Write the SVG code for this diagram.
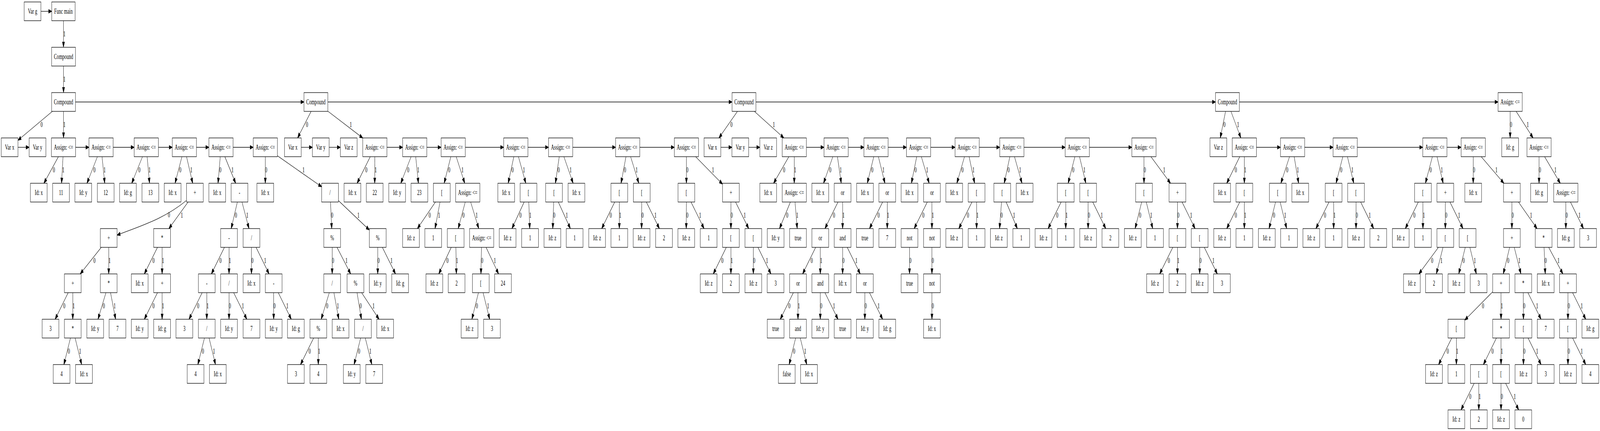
<svg xmlns="http://www.w3.org/2000/svg" width="6881" height="1103" viewBox="0 0 6881 1103" preserveAspectRatio="none">
<style>
svg{width:100vw;height:100vh;display:block}
use{fill:#fff;stroke:#000;stroke-width:1.33}
text{font-family:"Liberation Serif","Times New Roman",serif;font-size:18.67px;text-anchor:middle;fill:#000}
#connectors path{fill:none;stroke:#000;stroke-width:1.33;marker-end:url(#ah)}
</style>
<defs>
<marker id="ah" markerUnits="userSpaceOnUse" viewBox="0 0 13.33 9.33" refX="13.33" refY="4.67" markerWidth="13.33" markerHeight="9.33" orient="auto" overflow="visible"><path d="M0,0L13.33,4.67L0,9.33z" fill="#000" stroke="#000" stroke-width="1.33"/></marker>
<rect id="b" x="-36" y="-24" width="72" height="48"/>
<rect id="w" x="-52" y="-24" width="104" height="48"/>
<rect id="c" x="-51.3" y="-24" width="102.6" height="48"/>
<rect id="f" x="-50.15" y="-24" width="100.3" height="48"/>
</defs>
<rect width="6881" height="1103" fill="#fff"/>
<g id="connectors">
<path d="M176 29L222.6 29"/>
<path d="M273 53L273 121"/>
<path d="M273.2 169L273.2 237"/>
<path d="M324.5 261L1307.2 261"/>
<path d="M1409.8 261L3148.3 261"/>
<path d="M3250.9 261L5227.5 261"/>
<path d="M5330.1 261L6442.6 261"/>
<path d="M225.2 285L77.3 359"/>
<path d="M273.2 285L273.2 353"/>
<path d="M1338 285L1279.9 353"/>
<path d="M1409.8 284.5L1560.2 353.2"/>
<path d="M3171.5 285L3091.9 353"/>
<path d="M3244.3 285L3371.1 353"/>
<path d="M5270.7 285L5247.9 353"/>
<path d="M5293.8 285L5336.5 353"/>
<path d="M6494.6 285L6494.6 353"/>
<path d="M6520.3 285L6593.2 353"/>
<path d="M77.3 377L125.5 377"/>
<path d="M325.2 377L382.7 377"/>
<path d="M486.7 377L577.1 377"/>
<path d="M681.1 377L740.9 377"/>
<path d="M844.9 377L898.5 377"/>
<path d="M1002.5 377L1089 377"/>
<path d="M1295.4 377L1343.6 377"/>
<path d="M1415.6 377L1463.7 377"/>
<path d="M1664.2 377L1731.7 377"/>
<path d="M1835.7 377L1897 377"/>
<path d="M2001 377L2166.3 377"/>
<path d="M2270.3 377L2359 377"/>
<path d="M2463 377L2647.5 377"/>
<path d="M2751.5 377L2900 377"/>
<path d="M3099.8 377L3147.9 377"/>
<path d="M3219.9 377L3267.7 377"/>
<path d="M3467.8 377L3543.7 377"/>
<path d="M3647.7 377L3715.6 377"/>
<path d="M3819.6 377L3898.5 377"/>
<path d="M4002.5 377L4107.4 377"/>
<path d="M4211.4 377L4299.5 377"/>
<path d="M4403.5 377L4581 377"/>
<path d="M4685 377L4867.9 377"/>
<path d="M5403.5 377L5506.9 377"/>
<path d="M5610.9 377L5733.2 377"/>
<path d="M5837.2 377L6118.7 377"/>
<path d="M6222.7 377L6283.7 377"/>
<path d="M251.2 401L188.8 469"/>
<path d="M271 401L264.7 469"/>
<path d="M418.9 401L374 469"/>
<path d="M438.8 401L450.5 469"/>
<path d="M612.8 401L566.5 469"/>
<path d="M632.7 401L643.1 469"/>
<path d="M782.4 401L752.8 469"/>
<path d="M802.2 401L828.7 469"/>
<path d="M947.2 401L937.7 469"/>
<path d="M967 401L1013.6 469"/>
<path d="M1141 401L1141 469"/>
<path d="M1193 398.7L1383.4 478"/>
<path d="M1592.3 401L1535.7 469"/>
<path d="M1612 401L1611.6 469"/>
<path d="M1768 401L1723.6 469"/>
<path d="M1787.8 401L1799.5 469"/>
<path d="M1938.9 401L1910.1 469"/>
<path d="M1962 401L1998.7 469"/>
<path d="M2209.8 401L2185.5 469"/>
<path d="M2229.6 401L2261.4 469"/>
<path d="M2405.1 401L2388.6 469"/>
<path d="M2425.1 401L2464.9 469"/>
<path d="M2692.1 401L2670.9 469"/>
<path d="M2712 401L2747.4 469"/>
<path d="M2952 401L2952 469"/>
<path d="M2991.6 401L3107.4 471.2"/>
<path d="M3392.6 401L3326.9 469"/>
<path d="M3415.8 401L3415.8 469"/>
<path d="M3581.7 401L3541.8 469"/>
<path d="M3601.5 401L3618 469"/>
<path d="M3757.8 401L3729.9 469"/>
<path d="M3777.6 401L3805.8 469"/>
<path d="M3942.4 401L3919.6 469"/>
<path d="M3962.4 401L3996 469"/>
<path d="M4147.9 401L4115.1 469"/>
<path d="M4167.8 401L4191.6 469"/>
<path d="M4343 401L4318.7 469"/>
<path d="M4362.9 401L4395.2 469"/>
<path d="M4622.7 401L4593.7 469"/>
<path d="M4642.6 401L4670 469"/>
<path d="M4919.9 401L4919.9 469"/>
<path d="M4949.7 401L5034 469"/>
<path d="M5331.7 401L5275.7 469"/>
<path d="M5351.5 401L5351.5 469"/>
<path d="M5545.8 401L5508.5 469"/>
<path d="M5565.7 401L5585 469"/>
<path d="M5774.9 401L5745.8 469"/>
<path d="M5794.8 401L5822.2 469"/>
<path d="M6160.1 401L6130.1 469"/>
<path d="M6180.1 401L6206.5 469"/>
<path d="M6335.7 401L6335.7 469"/>
<path d="M6370.1 401L6467.7 469"/>
<path d="M6618.9 401L6618.9 469"/>
<path d="M6642.7 401L6710.3 469"/>
<path d="M802 513C702 562 603 578 503.6 601.7"/>
<path d="M808.9 517L726.3 585"/>
<path d="M1020.8 517L994.3 585"/>
<path d="M1040.7 517L1070.8 585"/>
<path d="M1421.3 517L1426.7 585"/>
<path d="M1455.4 513.4L1588.5 588.6"/>
<path d="M1872.6 517L1795 585"/>
<path d="M1892.4 517L1870.9 585"/>
<path d="M2000.9 517L1970.5 585"/>
<path d="M2024.1 517L2059 585"/>
<path d="M2254.2 517L2201.6 585"/>
<path d="M2274.1 517L2278.2 585"/>
<path d="M2381.3 517L2377.2 585"/>
<path d="M2401.1 517L2453 585"/>
<path d="M2643.7 517L2587.7 585"/>
<path d="M2663.5 517L2663.5 585"/>
<path d="M2759.9 517L2759.2 585"/>
<path d="M2779.7 517L2835.8 585"/>
<path d="M2952 517L2951.3 585"/>
<path d="M2971.8 517L3027.9 585"/>
<path d="M3143.4 517L3143.4 585"/>
<path d="M3163.3 517L3219.9 585"/>
<path d="M3399.2 517L3352.3 585"/>
<path d="M3419.1 517L3428.5 585"/>
<path d="M3603.9 517L3547.7 585"/>
<path d="M3623.8 517L3623.8 585"/>
<path d="M3795.9 517L3739.3 585"/>
<path d="M3815.8 517L3815.8 585"/>
<path d="M3988 517L3931.4 585"/>
<path d="M4007.9 517L4007.9 585"/>
<path d="M4180.1 517L4123.5 585"/>
<path d="M4200 517L4200 585"/>
<path d="M4307.2 517L4298.6 585"/>
<path d="M4327.1 517L4375.2 585"/>
<path d="M4563.6 517L4507.5 585"/>
<path d="M4583.4 517L4583.4 585"/>
<path d="M4679.6 517L4679.6 585"/>
<path d="M4699.4 517L4755.5 585"/>
<path d="M4909.9 517L4881.7 585"/>
<path d="M4929.7 517L4957.5 585"/>
<path d="M5063.8 517L5063.8 585"/>
<path d="M5083.6 517L5139.6 585"/>
<path d="M5331.7 517L5275.7 585"/>
<path d="M5351.5 517L5351.5 585"/>
<path d="M5485.6 517L5457.8 585"/>
<path d="M5505.4 517L5533.6 585"/>
<path d="M5715.6 517L5659.2 585"/>
<path d="M5735.5 517L5735.5 585"/>
<path d="M5831.8 517L5831.8 585"/>
<path d="M5851.6 517L5907.7 585"/>
<path d="M6099.7 517L6043.7 585"/>
<path d="M6119.5 517L6119.5 585"/>
<path d="M6215.9 517L6215.9 585"/>
<path d="M6235.7 517L6291.8 585"/>
<path d="M6502.1 517L6502.1 585"/>
<path d="M6530.3 517L6610.3 585"/>
<path d="M6734.1 517L6734.1 585"/>
<path d="M6753.9 517L6810 585"/>
<path d="M435.6 633L345 701"/>
<path d="M467.6 633L467.6 701"/>
<path d="M677.3 633L620.7 701"/>
<path d="M697.2 633L697.2 701"/>
<path d="M965.2 633L909.1 701"/>
<path d="M985 633L985 701"/>
<path d="M1081.4 633L1081.4 701"/>
<path d="M1101.2 633L1157.2 701"/>
<path d="M1428.6 633L1428.6 701"/>
<path d="M1449.3 633L1508.1 701"/>
<path d="M1624.5 633L1624.5 701"/>
<path d="M1644.4 633L1701 701"/>
<path d="M1940.7 633L1886.9 701"/>
<path d="M1960.5 633L1962.7 701"/>
<path d="M2070.6 633L2068.4 701"/>
<path d="M2090.4 633L2144.2 701"/>
<path d="M3123.6 633L3067.5 701"/>
<path d="M3143.4 633L3143.4 701"/>
<path d="M3239.8 633L3239.8 701"/>
<path d="M3259.6 633L3315.6 701"/>
<path d="M3507.9 633L3451.7 701"/>
<path d="M3527.8 633L3527.8 701"/>
<path d="M3623.8 633L3623.8 701"/>
<path d="M3643.6 633L3699.6 701"/>
<path d="M3911.5 633L3911.5 701"/>
<path d="M4007.9 633L4007.9 701"/>
<path d="M5043.8 633L4987.3 701"/>
<path d="M5063.8 633L5063.8 701"/>
<path d="M5159.4 633L5159.4 701"/>
<path d="M5179.2 633L5235.3 701"/>
<path d="M6186.1 633L6101.9 701"/>
<path d="M6205.8 633L6177.1 701"/>
<path d="M6301.6 633L6273.4 701"/>
<path d="M6321.4 633L6349.2 701"/>
<path d="M6492.4 633L6465.1 701"/>
<path d="M6512.2 633L6541 701"/>
<path d="M6640.4 633L6645.6 701"/>
<path d="M6660.2 633L6721.5 701"/>
<path d="M293.2 749L237.1 817"/>
<path d="M313 749L313 817"/>
<path d="M455.6 749L421.4 817"/>
<path d="M475.4 749L497.3 817"/>
<path d="M677.3 749L620.7 817"/>
<path d="M697.2 749L697.2 817"/>
<path d="M869.4 749L812.8 817"/>
<path d="M889.3 749L889.3 817"/>
<path d="M985 749L985 817"/>
<path d="M1004.9 749L1061.5 817"/>
<path d="M1177 749L1177 817"/>
<path d="M1196.7 749L1252.7 817"/>
<path d="M1416.2 749L1381.3 817"/>
<path d="M1436 749L1457.1 817"/>
<path d="M1535.5 749L1554.3 817"/>
<path d="M1555.2 749L1630.2 817"/>
<path d="M2057.6 749L2029.4 817"/>
<path d="M2077.6 749L2105.8 817"/>
<path d="M3411.9 749L3355.6 817"/>
<path d="M3431.8 749L3431.8 817"/>
<path d="M3527.8 749L3527.8 817"/>
<path d="M3547.7 749L3603.9 817"/>
<path d="M3719.4 749L3719.4 817"/>
<path d="M3739.3 749L3795.9 817"/>
<path d="M4007.9 749L4007.9 817"/>
<path d="M6419.4 746.75L6299.4 819.25"/>
<path d="M6455.4 749L6455.4 817"/>
<path d="M6551.1 749L6551.8 817"/>
<path d="M6571 749L6627.6 817"/>
<path d="M6743.2 749L6743.2 817"/>
<path d="M6763.1 749L6819.7 817"/>
<path d="M303 865L274.8 933"/>
<path d="M323 865L351.2 933"/>
<path d="M879.3 865L851 933"/>
<path d="M899.1 865L926.9 933"/>
<path d="M1348.9 865L1292.4 933"/>
<path d="M1368.9 865L1368.9 933"/>
<path d="M1551 865L1522.8 933"/>
<path d="M1571 865L1599.2 933"/>
<path d="M3421.8 865L3393.7 933"/>
<path d="M3441.6 865L3469.5 933"/>
<path d="M6243.5 865L6186.9 933"/>
<path d="M6263.4 865L6263.4 933"/>
<path d="M6435.6 865L6379.6 933"/>
<path d="M6455.4 865L6455.4 933"/>
<path d="M6551.8 865L6551.8 933"/>
<path d="M6571.6 865L6627.7 933"/>
<path d="M6743.2 865L6743.2 933"/>
<path d="M6763.1 865L6819.7 933"/>
<path d="M6339.9 981L6283.3 1049"/>
<path d="M6359.8 981L6359.8 1049"/>
<path d="M6455.4 981L6455.4 1049"/>
<path d="M6475.2 981L6531.3 1049"/>
</g>
<g id="edge-labels">
<text x="277" y="93">1</text>
<text x="277" y="209">1</text>
<text x="179" y="325">0</text><text x="276.9" y="325">1</text>
<text x="1320.4" y="325">0</text><text x="1508.7" y="325">1</text>
<text x="3145.9" y="325">0</text><text x="3328.2" y="325">1</text>
<text x="5266" y="325">0</text><text x="5324.5" y="325">1</text>
<text x="6498.3" y="325">0</text><text x="6570.1" y="325">1</text>
<text x="232" y="441">0</text><text x="272.4" y="441">1</text>
<text x="406.1" y="441">0</text><text x="449.9" y="441">1</text>
<text x="599.5" y="441">0</text><text x="643" y="441">1</text>
<text x="775.2" y="441">0</text><text x="822.7" y="441">1</text>
<text x="947.4" y="441">0</text><text x="1000.2" y="441">1</text>
<text x="1144.7" y="441">0</text><text x="1305.5" y="441">1</text>
<text x="1575.2" y="441">0</text><text x="1615.7" y="441">1</text>
<text x="1755.4" y="441">0</text><text x="1798.9" y="441">1</text>
<text x="1932" y="441">0</text><text x="1989" y="441">1</text>
<text x="2204.6" y="441">0</text><text x="2253.4" y="441">1</text>
<text x="2402.8" y="441">0</text><text x="2454" y="441">1</text>
<text x="2688" y="441">0</text><text x="2738.1" y="441">1</text>
<text x="2955.7" y="441">0</text><text x="3066.3" y="441">1</text>
<text x="3372.2" y="441">0</text><text x="3419.5" y="441">1</text>
<text x="3570.7" y="441">0</text><text x="3615.6" y="441">1</text>
<text x="3751.3" y="441">0</text><text x="3799.1" y="441">1</text>
<text x="3937.7" y="441">0</text><text x="3987.4" y="441">1</text>
<text x="4139.5" y="441">0</text><text x="4186.6" y="441">1</text>
<text x="4337.8" y="441">0</text><text x="4387" y="441">1</text>
<text x="4615.7" y="441">0</text><text x="4663.6" y="441">1</text>
<text x="4923.6" y="441">0</text><text x="5006.8" y="441">1</text>
<text x="5314.8" y="441">0</text><text x="5355.2" y="441">1</text>
<text x="5535.8" y="441">0</text><text x="5581.7" y="441">1</text>
<text x="5768" y="441">0</text><text x="5815.8" y="441">1</text>
<text x="6152.8" y="441">0</text><text x="6200.5" y="441">1</text>
<text x="6339.4" y="441">0</text><text x="6435.5" y="441">1</text>
<text x="6622.6" y="441">0</text><text x="6689.1" y="441">1</text>
<text x="726.7" y="556">0</text><text x="782.2" y="557">1</text>
<text x="1014.8" y="557">0</text><text x="1063.5" y="557">1</text>
<text x="1428.4" y="557">0</text><text x="1541.6" y="557">1</text>
<text x="1847.8" y="557">0</text><text x="1888.2" y="557">1</text>
<text x="1993.4" y="557">0</text><text x="2049.9" y="557">1</text>
<text x="2238.6" y="557">0</text><text x="2280.4" y="557">1</text>
<text x="2383.5" y="557">0</text><text x="2437.7" y="557">1</text>
<text x="2626.8" y="557">0</text><text x="2667.2" y="557">1</text>
<text x="2763.6" y="557">0</text><text x="2818.9" y="557">1</text>
<text x="2955.7" y="557">0</text><text x="3011" y="557">1</text>
<text x="3147.1" y="557">0</text><text x="3202.8" y="557">1</text>
<text x="3385.7" y="557">0</text><text x="3428.7" y="557">1</text>
<text x="3586.9" y="557">0</text><text x="3627.5" y="557">1</text>
<text x="3778.8" y="557">0</text><text x="3819.5" y="557">1</text>
<text x="3970.9" y="557">0</text><text x="4011.6" y="557">1</text>
<text x="4163" y="557">0</text><text x="4203.7" y="557">1</text>
<text x="4307.7" y="557">0</text><text x="4361.2" y="557">1</text>
<text x="4546.7" y="557">0</text><text x="4587.1" y="557">1</text>
<text x="4683.3" y="557">0</text><text x="4738.5" y="557">1</text>
<text x="4903.2" y="557">0</text><text x="4951" y="557">1</text>
<text x="5067.5" y="557">0</text><text x="5122.7" y="557">1</text>
<text x="5314.8" y="557">0</text><text x="5355.2" y="557">1</text>
<text x="5479.1" y="557">0</text><text x="5526.9" y="557">1</text>
<text x="5698.5" y="557">0</text><text x="5739.2" y="557">1</text>
<text x="5835.5" y="557">0</text><text x="5890.8" y="557">1</text>
<text x="6082.8" y="557">0</text><text x="6123.2" y="557">1</text>
<text x="6219.6" y="557">0</text><text x="6274.9" y="557">1</text>
<text x="6505.8" y="557">0</text><text x="6584.6" y="557">1</text>
<text x="6737.8" y="557">0</text><text x="6793" y="557">1</text>
<text x="406" y="673">0</text><text x="471.3" y="673">1</text>
<text x="660.2" y="673">0</text><text x="700.9" y="673">1</text>
<text x="948.3" y="673">0</text><text x="988.7" y="673">1</text>
<text x="1085.1" y="673">0</text><text x="1140.3" y="673">1</text>
<text x="1432.3" y="673">0</text><text x="1490.2" y="673">1</text>
<text x="1628.2" y="673">0</text><text x="1683.9" y="673">1</text>
<text x="1924.6" y="673">0</text><text x="1965.6" y="673">1</text>
<text x="2073.5" y="673">0</text><text x="2128.1" y="673">1</text>
<text x="3106.7" y="673">0</text><text x="3147.1" y="673">1</text>
<text x="3243.5" y="673">0</text><text x="3298.7" y="673">1</text>
<text x="3490.9" y="673">0</text><text x="3531.5" y="673">1</text>
<text x="3627.5" y="673">0</text><text x="3682.7" y="673">1</text>
<text x="3915.2" y="673">0</text><text x="4011.6" y="673">0</text>
<text x="5026.8" y="673">0</text><text x="5067.5" y="673">1</text>
<text x="5163.1" y="673">0</text><text x="5218.4" y="673">1</text>
<text x="6158.9" y="673">0</text><text x="6199" y="673">1</text>
<text x="6294.9" y="673">0</text><text x="6342.7" y="673">1</text>
<text x="6486.1" y="673">0</text><text x="6534.1" y="673">1</text>
<text x="6647.4" y="673">0</text><text x="6702.7" y="673">1</text>
<text x="276.3" y="789">0</text><text x="316.7" y="789">1</text>
<text x="446.7" y="789">0</text><text x="493" y="789">1</text>
<text x="660.2" y="789">0</text><text x="700.9" y="789">1</text>
<text x="852.3" y="789">0</text><text x="893" y="789">1</text>
<text x="988.7" y="789">0</text><text x="1044.4" y="789">1</text>
<text x="1180.7" y="789">0</text><text x="1235.8" y="789">1</text>
<text x="1407.1" y="789">0</text><text x="1453.1" y="789">1</text>
<text x="1551.1" y="789">0</text><text x="1606.3" y="789">1</text>
<text x="2050.9" y="789">0</text><text x="2099.1" y="789">1</text>
<text x="3394.9" y="789">0</text><text x="3435.5" y="789">1</text>
<text x="3531.5" y="789">0</text><text x="3586.9" y="789">1</text>
<text x="3723.1" y="789">0</text><text x="3778.8" y="789">1</text>
<text x="4011.6" y="789">0</text>
<text x="6378" y="789">0</text><text x="6459.1" y="789">1</text>
<text x="6555" y="789">0</text><text x="6610.5" y="789">1</text>
<text x="6746.9" y="789">0</text><text x="6802.6" y="789">1</text>
<text x="296.3" y="905">0</text><text x="344.5" y="905">1</text>
<text x="872.6" y="905">0</text><text x="920.4" y="905">1</text>
<text x="1331.9" y="905">0</text><text x="1372.6" y="905">1</text>
<text x="1544.3" y="905">0</text><text x="1592.5" y="905">1</text>
<text x="3415.2" y="905">0</text><text x="3463" y="905">1</text>
<text x="6226.4" y="905">0</text><text x="6267.1" y="905">1</text>
<text x="6418.9" y="905">0</text><text x="6459.1" y="905">1</text>
<text x="6555.5" y="905">0</text><text x="6610.8" y="905">1</text>
<text x="6746.9" y="905">0</text><text x="6802.6" y="905">1</text>
<text x="6322.8" y="1021">0</text><text x="6363.5" y="1021">1</text>
<text x="6459.1" y="1021">0</text><text x="6514.4" y="1021">1</text>
</g>
<g id="nodes">
<g id="varg" transform="translate(140 29)"><use href="#b"/><text y="5.5">Var g</text></g>
<g id="func" transform="translate(272.8 29)"><use href="#f"/><text y="5.5">Func main</text></g>
<g id="cmp0" transform="translate(273.2 145)"><use href="#c"/><text y="5.5">Compound</text></g>
<g id="cmp1" transform="translate(273.2 261)"><use href="#c"/><text y="5.5">Compound</text></g>
<g id="cmp2" transform="translate(1358.5 261)"><use href="#c"/><text y="5.5">Compound</text></g>
<g id="cmp3" transform="translate(3199.6 261)"><use href="#c"/><text y="5.5">Compound</text></g>
<g id="cmp4" transform="translate(5278.8 261)"><use href="#c"/><text y="5.5">Compound</text></g>
<g id="E" transform="translate(6494.6 261)"><use href="#w"/><text y="5.5">Assign: &lt;=</text></g>
<g id="t1_vx" transform="translate(41.3 377)"><use href="#b"/><text y="5.5">Var x</text></g>
<g id="t1_vy" transform="translate(161.5 377)"><use href="#b"/><text y="5.5">Var y</text></g>
<g id="A1" transform="translate(273.2 377)"><use href="#w"/><text y="5.5">Assign: &lt;=</text></g>
<g id="A2" transform="translate(434.7 377)"><use href="#w"/><text y="5.5">Assign: &lt;=</text></g>
<g id="A3" transform="translate(629.1 377)"><use href="#w"/><text y="5.5">Assign: &lt;=</text></g>
<g id="A4" transform="translate(792.9 377)"><use href="#w"/><text y="5.5">Assign: &lt;=</text></g>
<g id="A5" transform="translate(950.5 377)"><use href="#w"/><text y="5.5">Assign: &lt;=</text></g>
<g id="A6" transform="translate(1141 377)"><use href="#w"/><text y="5.5">Assign: &lt;=</text></g>
<g id="t2_vx" transform="translate(1259.4 377)"><use href="#b"/><text y="5.5">Var x</text></g>
<g id="t2_vy" transform="translate(1379.6 377)"><use href="#b"/><text y="5.5">Var y</text></g>
<g id="t2_vz" transform="translate(1499.7 377)"><use href="#b"/><text y="5.5">Var z</text></g>
<g id="B1" transform="translate(1612.2 377)"><use href="#w"/><text y="5.5">Assign: &lt;=</text></g>
<g id="B2" transform="translate(1783.7 377)"><use href="#w"/><text y="5.5">Assign: &lt;=</text></g>
<g id="B3" transform="translate(1949 377)"><use href="#w"/><text y="5.5">Assign: &lt;=</text></g>
<g id="B4" transform="translate(2218.3 377)"><use href="#w"/><text y="5.5">Assign: &lt;=</text></g>
<g id="B5" transform="translate(2411 377)"><use href="#w"/><text y="5.5">Assign: &lt;=</text></g>
<g id="B6" transform="translate(2699.5 377)"><use href="#w"/><text y="5.5">Assign: &lt;=</text></g>
<g id="B7" transform="translate(2952 377)"><use href="#w"/><text y="5.5">Assign: &lt;=</text></g>
<g id="t3_vx" transform="translate(3063.8 377)"><use href="#b"/><text y="5.5">Var x</text></g>
<g id="t3_vy" transform="translate(3183.9 377)"><use href="#b"/><text y="5.5">Var y</text></g>
<g id="t3_vz" transform="translate(3303.7 377)"><use href="#b"/><text y="5.5">Var z</text></g>
<g id="C1" transform="translate(3415.8 377)"><use href="#w"/><text y="5.5">Assign: &lt;=</text></g>
<g id="C2" transform="translate(3595.7 377)"><use href="#w"/><text y="5.5">Assign: &lt;=</text></g>
<g id="C3" transform="translate(3767.6 377)"><use href="#w"/><text y="5.5">Assign: &lt;=</text></g>
<g id="C4" transform="translate(3950.5 377)"><use href="#w"/><text y="5.5">Assign: &lt;=</text></g>
<g id="C5" transform="translate(4159.4 377)"><use href="#w"/><text y="5.5">Assign: &lt;=</text></g>
<g id="C6" transform="translate(4351.5 377)"><use href="#w"/><text y="5.5">Assign: &lt;=</text></g>
<g id="C7" transform="translate(4633 377)"><use href="#w"/><text y="5.5">Assign: &lt;=</text></g>
<g id="C8" transform="translate(4919.9 377)"><use href="#w"/><text y="5.5">Assign: &lt;=</text></g>
<g id="t4_vz" transform="translate(5239.8 377)"><use href="#b"/><text y="5.5">Var z</text></g>
<g id="D1" transform="translate(5351.5 377)"><use href="#w"/><text y="5.5">Assign: &lt;=</text></g>
<g id="D2" transform="translate(5558.9 377)"><use href="#w"/><text y="5.5">Assign: &lt;=</text></g>
<g id="D3" transform="translate(5785.2 377)"><use href="#w"/><text y="5.5">Assign: &lt;=</text></g>
<g id="D4" transform="translate(6170.7 377)"><use href="#w"/><text y="5.5">Assign: &lt;=</text></g>
<g id="D5" transform="translate(6335.7 377)"><use href="#w"/><text y="5.5">Assign: &lt;=</text></g>
<g id="e_g" transform="translate(6494.6 377)"><use href="#b"/><text y="5.5">Id: g</text></g>
<g id="e_a" transform="translate(6618.9 377)"><use href="#w"/><text y="5.5">Assign: &lt;=</text></g>
<g id="a1i" transform="translate(166.8 493)"><use href="#b"/><text y="5.5">Id: x</text></g>
<g id="a1v" transform="translate(262.5 493)"><use href="#b"/><text y="5.5">11</text></g>
<g id="a2i" transform="translate(358.2 493)"><use href="#b"/><text y="5.5">Id: y</text></g>
<g id="a2v" transform="translate(454.6 493)"><use href="#b"/><text y="5.5">12</text></g>
<g id="a3i" transform="translate(550.2 493)"><use href="#b"/><text y="5.5">Id: g</text></g>
<g id="a3v" transform="translate(646.7 493)"><use href="#b"/><text y="5.5">13</text></g>
<g id="a4i" transform="translate(742.3 493)"><use href="#b"/><text y="5.5">Id: x</text></g>
<g id="a4p" transform="translate(838 493)"><use href="#b"/><text y="5.5">+</text></g>
<g id="a5i" transform="translate(934.4 493)"><use href="#b"/><text y="5.5">Id: x</text></g>
<g id="a5m" transform="translate(1030.1 493)"><use href="#b"/><text y="5.5">-</text></g>
<g id="a6i" transform="translate(1141 493)"><use href="#b"/><text y="5.5">Id: x</text></g>
<g id="a6d" transform="translate(1419.4 493)"><use href="#b"/><text y="5.5">/</text></g>
<g id="b1i" transform="translate(1515.8 493)"><use href="#b"/><text y="5.5">Id: x</text></g>
<g id="b1v" transform="translate(1611.5 493)"><use href="#b"/><text y="5.5">22</text></g>
<g id="b2i" transform="translate(1707.9 493)"><use href="#b"/><text y="5.5">Id: y</text></g>
<g id="b2v" transform="translate(1803.6 493)"><use href="#b"/><text y="5.5">23</text></g>
<g id="b3b" transform="translate(1900 493)"><use href="#b"/><text y="5.5">[</text></g>
<g id="b3a" transform="translate(2011.7 493)"><use href="#w"/><text y="5.5">Assign: &lt;=</text></g>
<g id="b4i" transform="translate(2177 493)"><use href="#b"/><text y="5.5">Id: x</text></g>
<g id="b4b" transform="translate(2272.7 493)"><use href="#b"/><text y="5.5">[</text></g>
<g id="b5b" transform="translate(2382.7 493)"><use href="#b"/><text y="5.5">[</text></g>
<g id="b5i" transform="translate(2479 493)"><use href="#b"/><text y="5.5">Id: x</text></g>
<g id="b6b1" transform="translate(2663.5 493)"><use href="#b"/><text y="5.5">[</text></g>
<g id="b6b2" transform="translate(2759.9 493)"><use href="#b"/><text y="5.5">[</text></g>
<g id="b7b" transform="translate(2952 493)"><use href="#b"/><text y="5.5">[</text></g>
<g id="b7p" transform="translate(3143.4 493)"><use href="#b"/><text y="5.5">+</text></g>
<g id="c1i" transform="translate(3303.7 493)"><use href="#b"/><text y="5.5">Id: x</text></g>
<g id="c1a" transform="translate(3415.8 493)"><use href="#w"/><text y="5.5">Assign: &lt;=</text></g>
<g id="c2i" transform="translate(3527.8 493)"><use href="#b"/><text y="5.5">Id: x</text></g>
<g id="c2o" transform="translate(3623.8 493)"><use href="#b"/><text y="5.5">or</text></g>
<g id="c3i" transform="translate(3720.1 493)"><use href="#b"/><text y="5.5">Id: x</text></g>
<g id="c3o" transform="translate(3815.8 493)"><use href="#b"/><text y="5.5">or</text></g>
<g id="c4i" transform="translate(3911.5 493)"><use href="#b"/><text y="5.5">Id: x</text></g>
<g id="c4o" transform="translate(4007.9 493)"><use href="#b"/><text y="5.5">or</text></g>
<g id="c5i" transform="translate(4103.6 493)"><use href="#b"/><text y="5.5">Id: x</text></g>
<g id="c5b" transform="translate(4200 493)"><use href="#b"/><text y="5.5">[</text></g>
<g id="c6b" transform="translate(4310.2 493)"><use href="#b"/><text y="5.5">[</text></g>
<g id="c6i" transform="translate(4406.6 493)"><use href="#b"/><text y="5.5">Id: x</text></g>
<g id="c7b1" transform="translate(4583.4 493)"><use href="#b"/><text y="5.5">[</text></g>
<g id="c7b2" transform="translate(4679.6 493)"><use href="#b"/><text y="5.5">[</text></g>
<g id="c8b" transform="translate(4919.9 493)"><use href="#b"/><text y="5.5">[</text></g>
<g id="c8p" transform="translate(5063.8 493)"><use href="#b"/><text y="5.5">+</text></g>
<g id="d1i" transform="translate(5255.9 493)"><use href="#b"/><text y="5.5">Id: x</text></g>
<g id="d1b" transform="translate(5351.5 493)"><use href="#b"/><text y="5.5">[</text></g>
<g id="d2b" transform="translate(5495.4 493)"><use href="#b"/><text y="5.5">[</text></g>
<g id="d2i" transform="translate(5591.8 493)"><use href="#b"/><text y="5.5">Id: x</text></g>
<g id="d3b1" transform="translate(5735.5 493)"><use href="#b"/><text y="5.5">[</text></g>
<g id="d3b2" transform="translate(5831.8 493)"><use href="#b"/><text y="5.5">[</text></g>
<g id="d4b" transform="translate(6119.5 493)"><use href="#b"/><text y="5.5">[</text></g>
<g id="d4p" transform="translate(6215.9 493)"><use href="#b"/><text y="5.5">+</text></g>
<g id="d5i" transform="translate(6335.7 493)"><use href="#b"/><text y="5.5">Id: x</text></g>
<g id="d5p" transform="translate(6502.1 493)"><use href="#b"/><text y="5.5">+</text></g>
<g id="e_g2" transform="translate(6618.9 493)"><use href="#b"/><text y="5.5">Id: g</text></g>
<g id="e_a2" transform="translate(6734.1 493)"><use href="#w"/><text y="5.5">Assign: &lt;=</text></g>
<g id="p5a" transform="translate(467.6 609)"><use href="#b"/><text y="5.5">+</text></g>
<g id="s5a" transform="translate(697.2 609)"><use href="#b"/><text y="5.5">*</text></g>
<g id="m5a" transform="translate(985 609)"><use href="#b"/><text y="5.5">-</text></g>
<g id="d5a" transform="translate(1081.4 609)"><use href="#b"/><text y="5.5">/</text></g>
<g id="q5a" transform="translate(1428.6 609)"><use href="#b"/><text y="5.5">%</text></g>
<g id="q5b" transform="translate(1624.5 609)"><use href="#b"/><text y="5.5">%</text></g>
<g id="b3z" transform="translate(1767.6 609)"><use href="#b"/><text y="5.5">Id: z</text></g>
<g id="b3o" transform="translate(1863.3 609)"><use href="#b"/><text y="5.5">1</text></g>
<g id="b3b2" transform="translate(1959.7 609)"><use href="#b"/><text y="5.5">[</text></g>
<g id="b3a2" transform="translate(2071.4 609)"><use href="#w"/><text y="5.5">Assign: &lt;=</text></g>
<g id="b4z" transform="translate(2183.1 609)"><use href="#b"/><text y="5.5">Id: z</text></g>
<g id="b4o" transform="translate(2279.6 609)"><use href="#b"/><text y="5.5">1</text></g>
<g id="b5z" transform="translate(2375.8 609)"><use href="#b"/><text y="5.5">Id: z</text></g>
<g id="b5o" transform="translate(2471.4 609)"><use href="#b"/><text y="5.5">1</text></g>
<g id="b6z1" transform="translate(2567.9 609)"><use href="#b"/><text y="5.5">Id: z</text></g>
<g id="b6o" transform="translate(2663.5 609)"><use href="#b"/><text y="5.5">1</text></g>
<g id="b6z2" transform="translate(2759.2 609)"><use href="#b"/><text y="5.5">Id: z</text></g>
<g id="b6t" transform="translate(2855.6 609)"><use href="#b"/><text y="5.5">2</text></g>
<g id="b7z" transform="translate(2951.3 609)"><use href="#b"/><text y="5.5">Id: z</text></g>
<g id="b7o" transform="translate(3047.7 609)"><use href="#b"/><text y="5.5">1</text></g>
<g id="b7b1" transform="translate(3143.4 609)"><use href="#b"/><text y="5.5">[</text></g>
<g id="b7b2" transform="translate(3239.8 609)"><use href="#b"/><text y="5.5">[</text></g>
<g id="c1y" transform="translate(3335.7 609)"><use href="#b"/><text y="5.5">Id: y</text></g>
<g id="c1t" transform="translate(3431.8 609)"><use href="#b"/><text y="5.5">true</text></g>
<g id="c2o2" transform="translate(3527.8 609)"><use href="#b"/><text y="5.5">or</text></g>
<g id="c2a" transform="translate(3623.8 609)"><use href="#b"/><text y="5.5">and</text></g>
<g id="c3t" transform="translate(3719.4 609)"><use href="#b"/><text y="5.5">true</text></g>
<g id="c3v" transform="translate(3815.8 609)"><use href="#b"/><text y="5.5">7</text></g>
<g id="c4n1" transform="translate(3911.5 609)"><use href="#b"/><text y="5.5">not</text></g>
<g id="c4n2" transform="translate(4007.9 609)"><use href="#b"/><text y="5.5">not</text></g>
<g id="c5z" transform="translate(4103.6 609)"><use href="#b"/><text y="5.5">Id: z</text></g>
<g id="c5o" transform="translate(4200 609)"><use href="#b"/><text y="5.5">1</text></g>
<g id="c6z" transform="translate(4295.6 609)"><use href="#b"/><text y="5.5">Id: z</text></g>
<g id="c6o" transform="translate(4392.1 609)"><use href="#b"/><text y="5.5">1</text></g>
<g id="c7z" transform="translate(4487.7 609)"><use href="#b"/><text y="5.5">Id: z</text></g>
<g id="c7o" transform="translate(4583.4 609)"><use href="#b"/><text y="5.5">1</text></g>
<g id="c7z2" transform="translate(4679.6 609)"><use href="#b"/><text y="5.5">Id: z</text></g>
<g id="c7t" transform="translate(4775.3 609)"><use href="#b"/><text y="5.5">2</text></g>
<g id="c8z" transform="translate(4871.7 609)"><use href="#b"/><text y="5.5">Id: z</text></g>
<g id="c8o" transform="translate(4967.3 609)"><use href="#b"/><text y="5.5">1</text></g>
<g id="c8b1" transform="translate(5063.8 609)"><use href="#b"/><text y="5.5">[</text></g>
<g id="c8b2" transform="translate(5159.4 609)"><use href="#b"/><text y="5.5">[</text></g>
<g id="d1z" transform="translate(5255.9 609)"><use href="#b"/><text y="5.5">Id: z</text></g>
<g id="d1o" transform="translate(5351.5 609)"><use href="#b"/><text y="5.5">1</text></g>
<g id="d2z" transform="translate(5448 609)"><use href="#b"/><text y="5.5">Id: z</text></g>
<g id="d2o" transform="translate(5543.6 609)"><use href="#b"/><text y="5.5">1</text></g>
<g id="d3z" transform="translate(5639.3 609)"><use href="#b"/><text y="5.5">Id: z</text></g>
<g id="d3o" transform="translate(5735.5 609)"><use href="#b"/><text y="5.5">1</text></g>
<g id="d3z2" transform="translate(5831.8 609)"><use href="#b"/><text y="5.5">Id: z</text></g>
<g id="d3t" transform="translate(5927.5 609)"><use href="#b"/><text y="5.5">2</text></g>
<g id="d4z" transform="translate(6023.9 609)"><use href="#b"/><text y="5.5">Id: z</text></g>
<g id="d4o" transform="translate(6119.5 609)"><use href="#b"/><text y="5.5">1</text></g>
<g id="d4b1" transform="translate(6215.9 609)"><use href="#b"/><text y="5.5">[</text></g>
<g id="d4b2" transform="translate(6311.6 609)"><use href="#b"/><text y="5.5">[</text></g>
<g id="d5p2" transform="translate(6502.1 609)"><use href="#b"/><text y="5.5">+</text></g>
<g id="d5s" transform="translate(6638.5 609)"><use href="#b"/><text y="5.5">*</text></g>
<g id="e_g3" transform="translate(6734.1 609)"><use href="#b"/><text y="5.5">Id: g</text></g>
<g id="e_v" transform="translate(6829.8 609)"><use href="#b"/><text y="5.5">3</text></g>
<g id="p6a" transform="translate(313 725)"><use href="#b"/><text y="5.5">+</text></g>
<g id="s6a" transform="translate(467.6 725)"><use href="#b"/><text y="5.5">*</text></g>
<g id="i6a" transform="translate(600.8 725)"><use href="#b"/><text y="5.5">Id: x</text></g>
<g id="p6b" transform="translate(697.2 725)"><use href="#b"/><text y="5.5">+</text></g>
<g id="m6a" transform="translate(889.3 725)"><use href="#b"/><text y="5.5">-</text></g>
<g id="d6a" transform="translate(985 725)"><use href="#b"/><text y="5.5">/</text></g>
<g id="i6b" transform="translate(1081.4 725)"><use href="#b"/><text y="5.5">Id: x</text></g>
<g id="m6b" transform="translate(1177 725)"><use href="#b"/><text y="5.5">-</text></g>
<g id="d6b" transform="translate(1428.6 725)"><use href="#b"/><text y="5.5">/</text></g>
<g id="q6a" transform="translate(1528.8 725)"><use href="#b"/><text y="5.5">%</text></g>
<g id="i6c" transform="translate(1624.5 725)"><use href="#b"/><text y="5.5">Id: y</text></g>
<g id="i6d" transform="translate(1720.9 725)"><use href="#b"/><text y="5.5">Id: g</text></g>
<g id="b3z2" transform="translate(1867.9 725)"><use href="#b"/><text y="5.5">Id: z</text></g>
<g id="b3t" transform="translate(1963.5 725)"><use href="#b"/><text y="5.5">2</text></g>
<g id="b3b3" transform="translate(2067.6 725)"><use href="#b"/><text y="5.5">[</text></g>
<g id="b3v" transform="translate(2163.2 725)"><use href="#b"/><text y="5.5">24</text></g>
<g id="b7z1" transform="translate(3047.7 725)"><use href="#b"/><text y="5.5">Id: z</text></g>
<g id="b7t" transform="translate(3143.4 725)"><use href="#b"/><text y="5.5">2</text></g>
<g id="b7z2" transform="translate(3239.8 725)"><use href="#b"/><text y="5.5">Id: z</text></g>
<g id="b7h" transform="translate(3335.4 725)"><use href="#b"/><text y="5.5">3</text></g>
<g id="c2o3" transform="translate(3431.8 725)"><use href="#b"/><text y="5.5">or</text></g>
<g id="c2a2" transform="translate(3527.8 725)"><use href="#b"/><text y="5.5">and</text></g>
<g id="c2i2" transform="translate(3623.8 725)"><use href="#b"/><text y="5.5">Id: x</text></g>
<g id="c2o4" transform="translate(3719.4 725)"><use href="#b"/><text y="5.5">or</text></g>
<g id="c4t" transform="translate(3911.5 725)"><use href="#b"/><text y="5.5">true</text></g>
<g id="c4n3" transform="translate(4007.9 725)"><use href="#b"/><text y="5.5">not</text></g>
<g id="c8z1" transform="translate(4967.3 725)"><use href="#b"/><text y="5.5">Id: z</text></g>
<g id="c8t" transform="translate(5063.8 725)"><use href="#b"/><text y="5.5">2</text></g>
<g id="c8z2" transform="translate(5159.4 725)"><use href="#b"/><text y="5.5">Id: z</text></g>
<g id="c8h" transform="translate(5255.1 725)"><use href="#b"/><text y="5.5">3</text></g>
<g id="d4z1" transform="translate(6072.1 725)"><use href="#b"/><text y="5.5">Id: z</text></g>
<g id="d4t" transform="translate(6167 725)"><use href="#b"/><text y="5.5">2</text></g>
<g id="d4z2" transform="translate(6263.4 725)"><use href="#b"/><text y="5.5">Id: z</text></g>
<g id="d4h" transform="translate(6359 725)"><use href="#b"/><text y="5.5">3</text></g>
<g id="d5p3" transform="translate(6455.4 725)"><use href="#b"/><text y="5.5">+</text></g>
<g id="d5s2" transform="translate(6551.1 725)"><use href="#b"/><text y="5.5">*</text></g>
<g id="d5x" transform="translate(6647.5 725)"><use href="#b"/><text y="5.5">Id: x</text></g>
<g id="d5p4" transform="translate(6743.2 725)"><use href="#b"/><text y="5.5">+</text></g>
<g id="v7a" transform="translate(217.3 841)"><use href="#b"/><text y="5.5">3</text></g>
<g id="s7a" transform="translate(313 841)"><use href="#b"/><text y="5.5">*</text></g>
<g id="i7a" transform="translate(409.4 841)"><use href="#b"/><text y="5.5">Id: y</text></g>
<g id="v7b" transform="translate(505.1 841)"><use href="#b"/><text y="5.5">7</text></g>
<g id="i7b" transform="translate(600.8 841)"><use href="#b"/><text y="5.5">Id: y</text></g>
<g id="i7c" transform="translate(697.2 841)"><use href="#b"/><text y="5.5">Id: g</text></g>
<g id="v7c" transform="translate(792.9 841)"><use href="#b"/><text y="5.5">3</text></g>
<g id="d7a" transform="translate(889.3 841)"><use href="#b"/><text y="5.5">/</text></g>
<g id="i7d" transform="translate(985 841)"><use href="#b"/><text y="5.5">Id: y</text></g>
<g id="v7d" transform="translate(1081.4 841)"><use href="#b"/><text y="5.5">7</text></g>
<g id="i7e" transform="translate(1177 841)"><use href="#b"/><text y="5.5">Id: y</text></g>
<g id="i7f" transform="translate(1272.4 841)"><use href="#b"/><text y="5.5">Id: g</text></g>
<g id="q7a" transform="translate(1368.9 841)"><use href="#b"/><text y="5.5">%</text></g>
<g id="i7g" transform="translate(1464.5 841)"><use href="#b"/><text y="5.5">Id: x</text></g>
<g id="d7b" transform="translate(1561 841)"><use href="#b"/><text y="5.5">/</text></g>
<g id="i7h" transform="translate(1656.6 841)"><use href="#b"/><text y="5.5">Id: x</text></g>
<g id="b3z3" transform="translate(2019.4 841)"><use href="#b"/><text y="5.5">Id: z</text></g>
<g id="b3h" transform="translate(2115.8 841)"><use href="#b"/><text y="5.5">3</text></g>
<g id="c2t" transform="translate(3335.7 841)"><use href="#b"/><text y="5.5">true</text></g>
<g id="c2a3" transform="translate(3431.8 841)"><use href="#b"/><text y="5.5">and</text></g>
<g id="c2y" transform="translate(3527.8 841)"><use href="#b"/><text y="5.5">Id: y</text></g>
<g id="c2t2" transform="translate(3623.8 841)"><use href="#b"/><text y="5.5">true</text></g>
<g id="c2y2" transform="translate(3719.4 841)"><use href="#b"/><text y="5.5">Id: y</text></g>
<g id="c2g" transform="translate(3815.8 841)"><use href="#b"/><text y="5.5">Id: g</text></g>
<g id="c4x" transform="translate(4007.9 841)"><use href="#b"/><text y="5.5">Id: x</text></g>
<g id="d5b" transform="translate(6263.4 841)"><use href="#b"/><text y="5.5">[</text></g>
<g id="d5s3" transform="translate(6455.4 841)"><use href="#b"/><text y="5.5">*</text></g>
<g id="d5b2" transform="translate(6551.8 841)"><use href="#b"/><text y="5.5">[</text></g>
<g id="d5v7" transform="translate(6647.5 841)"><use href="#b"/><text y="5.5">7</text></g>
<g id="d5b3" transform="translate(6743.2 841)"><use href="#b"/><text y="5.5">[</text></g>
<g id="d5g" transform="translate(6839.6 841)"><use href="#b"/><text y="5.5">Id: g</text></g>
<g id="v8a" transform="translate(264.8 957)"><use href="#b"/><text y="5.5">4</text></g>
<g id="i8a" transform="translate(361.2 957)"><use href="#b"/><text y="5.5">Id: x</text></g>
<g id="v8b" transform="translate(841 957)"><use href="#b"/><text y="5.5">4</text></g>
<g id="i8b" transform="translate(936.7 957)"><use href="#b"/><text y="5.5">Id: x</text></g>
<g id="v8c" transform="translate(1272.4 957)"><use href="#b"/><text y="5.5">3</text></g>
<g id="v8d" transform="translate(1368.9 957)"><use href="#b"/><text y="5.5">4</text></g>
<g id="i8c" transform="translate(1512.8 957)"><use href="#b"/><text y="5.5">Id: y</text></g>
<g id="v8e" transform="translate(1609.2 957)"><use href="#b"/><text y="5.5">7</text></g>
<g id="c2f" transform="translate(3383.7 957)"><use href="#b"/><text y="5.5">false</text></g>
<g id="c2x" transform="translate(3479.3 957)"><use href="#b"/><text y="5.5">Id: x</text></g>
<g id="d5z" transform="translate(6167 957)"><use href="#b"/><text y="5.5">Id: z</text></g>
<g id="d5o" transform="translate(6263.4 957)"><use href="#b"/><text y="5.5">1</text></g>
<g id="d5b4" transform="translate(6359.8 957)"><use href="#b"/><text y="5.5">[</text></g>
<g id="d5b5" transform="translate(6455.4 957)"><use href="#b"/><text y="5.5">[</text></g>
<g id="d5z3" transform="translate(6551.8 957)"><use href="#b"/><text y="5.5">Id: z</text></g>
<g id="d5h" transform="translate(6647.5 957)"><use href="#b"/><text y="5.5">3</text></g>
<g id="d5z4" transform="translate(6743.2 957)"><use href="#b"/><text y="5.5">Id: z</text></g>
<g id="d5f" transform="translate(6839.6 957)"><use href="#b"/><text y="5.5">4</text></g>
<g id="d5z5" transform="translate(6263.4 1073)"><use href="#b"/><text y="5.5">Id: z</text></g>
<g id="d5t" transform="translate(6359.8 1073)"><use href="#b"/><text y="5.5">2</text></g>
<g id="d5z6" transform="translate(6455.4 1073)"><use href="#b"/><text y="5.5">Id: z</text></g>
<g id="d5zero" transform="translate(6551.1 1073)"><use href="#b"/><text y="5.5">0</text></g>
</g>
</svg>
